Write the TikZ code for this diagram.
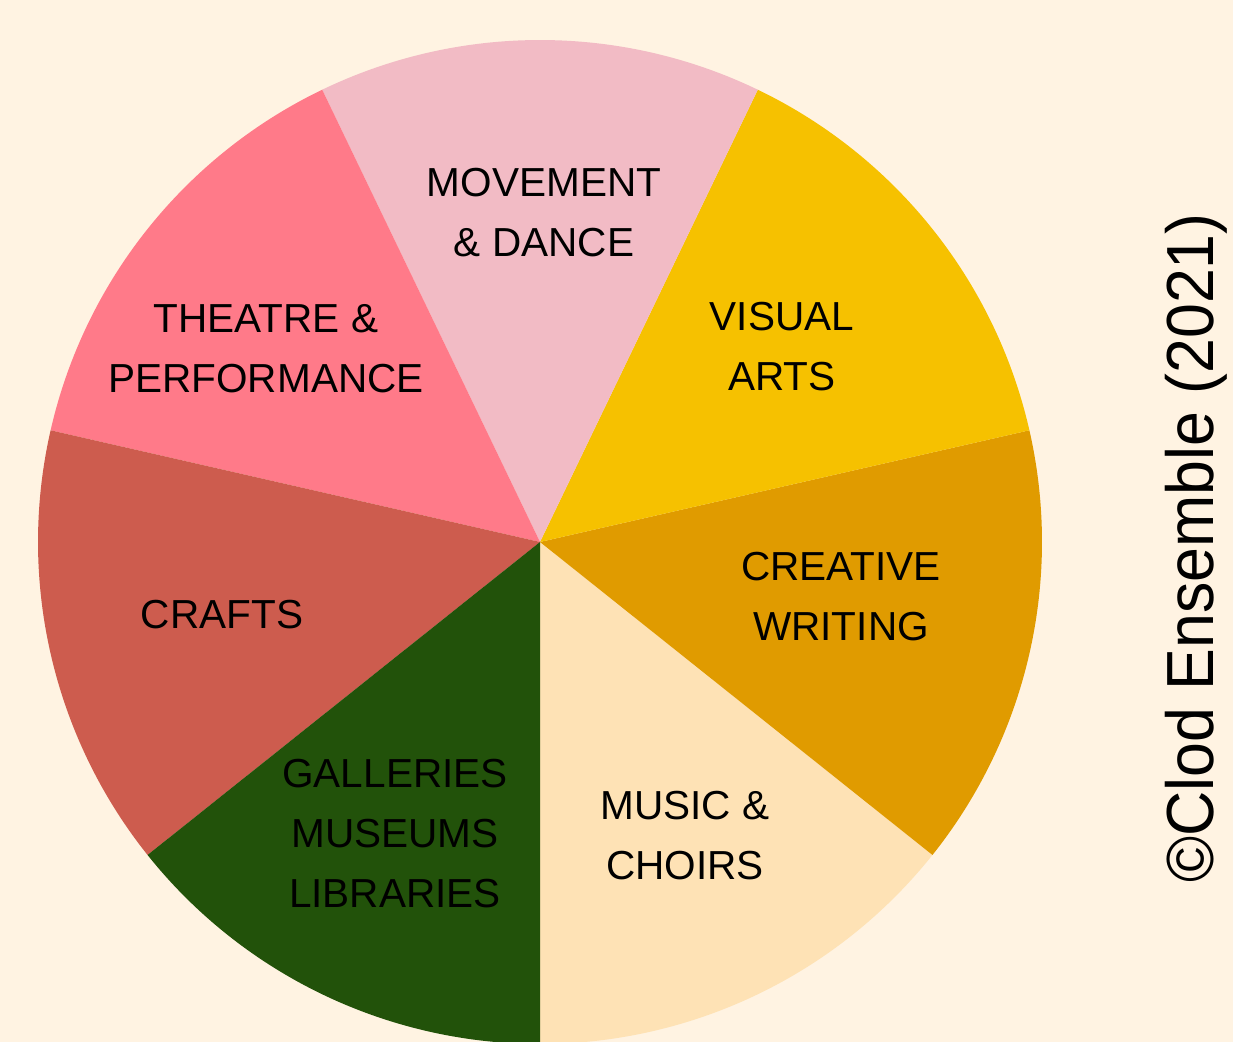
\documentclass[tikz,border=0pt]{standalone}
\usepackage{fontspec}
\setmainfont{Liberation Sans}
\usepackage{graphicx}

\definecolor{bgcream}{HTML}{FFF3E2}
\definecolor{cmovement}{HTML}{F2BBC5}
\definecolor{cvisual}{HTML}{F6C100}
\definecolor{ccreative}{HTML}{E09B00}
\definecolor{cmusic}{HTML}{FEE2B5}
\definecolor{cgalleries}{HTML}{22520A}
\definecolor{ccrafts}{HTML}{CD5C4E}
\definecolor{ctheatre}{HTML}{FF7A89}

\tikzset{
  % anchor=base sits on the baseline of the last line
  sectorlabel/.style={align=center, anchor=base, inner sep=0pt, text=black,
    font=\fontsize{30.4pt}{45pt}\selectfont},
  creditlabel/.style={rotate=90, anchor=base, inner sep=0pt, text=black,
    font=\fontsize{50pt}{60pt}\selectfont}
}

% draw one sector of the wheel: #1 colour, #2 start angle, #3 end angle
\newcommand{\wheelsector}[3]{%
  \fill[#1] (hub) -- ++(#2:376.5pt) arc[start angle=#2, end angle=#3, radius=376.5pt] -- cycle;}

\begin{document}
\begin{tikzpicture}[x=0.75pt, y=0.75pt]
  \fill[bgcream] (0,0) rectangle (1233,1042);
  \useasboundingbox (0,0) rectangle (1233,1042);
  \clip (0,0) rectangle (1233,1042);

  \coordinate (hub) at (540,500);

  \wheelsector{cmusic}{-90}{-38.571}
  \wheelsector{ccreative}{-38.571}{12.857}
  \wheelsector{cvisual}{12.857}{64.286}
  \wheelsector{cmovement}{64.286}{115.714}
  \wheelsector{ctheatre}{115.714}{167.143}
  \wheelsector{ccrafts}{167.143}{218.571}
  \wheelsector{cgalleries}{218.571}{270}

  \node[sectorlabel] (movement) at (544,785) {MOVEMENT\\\& DANCE};
  \node[sectorlabel] (theatre) at (266,649) {THEATRE \&\\PERFORMANCE};
  \node[sectorlabel] (visual) at (782,651) {VISUAL\\ARTS};
  \node[sectorlabel] (creative) at (841,401) {CREATIVE\\WRITING};
  \node[sectorlabel] (crafts) at (222,413) {CRAFTS};
  \node[sectorlabel] (galleries) at (395,134) {GALLERIES\\MUSEUMS\\LIBRARIES};
  \node[sectorlabel] (music) at (685,162) {MUSIC \&\\CHOIRS};

  \node[creditlabel] (credit) at (1213,494) {\scalebox{0.94}[1]{©Clod Ensemble (2021)}};
\end{tikzpicture}
\end{document}
